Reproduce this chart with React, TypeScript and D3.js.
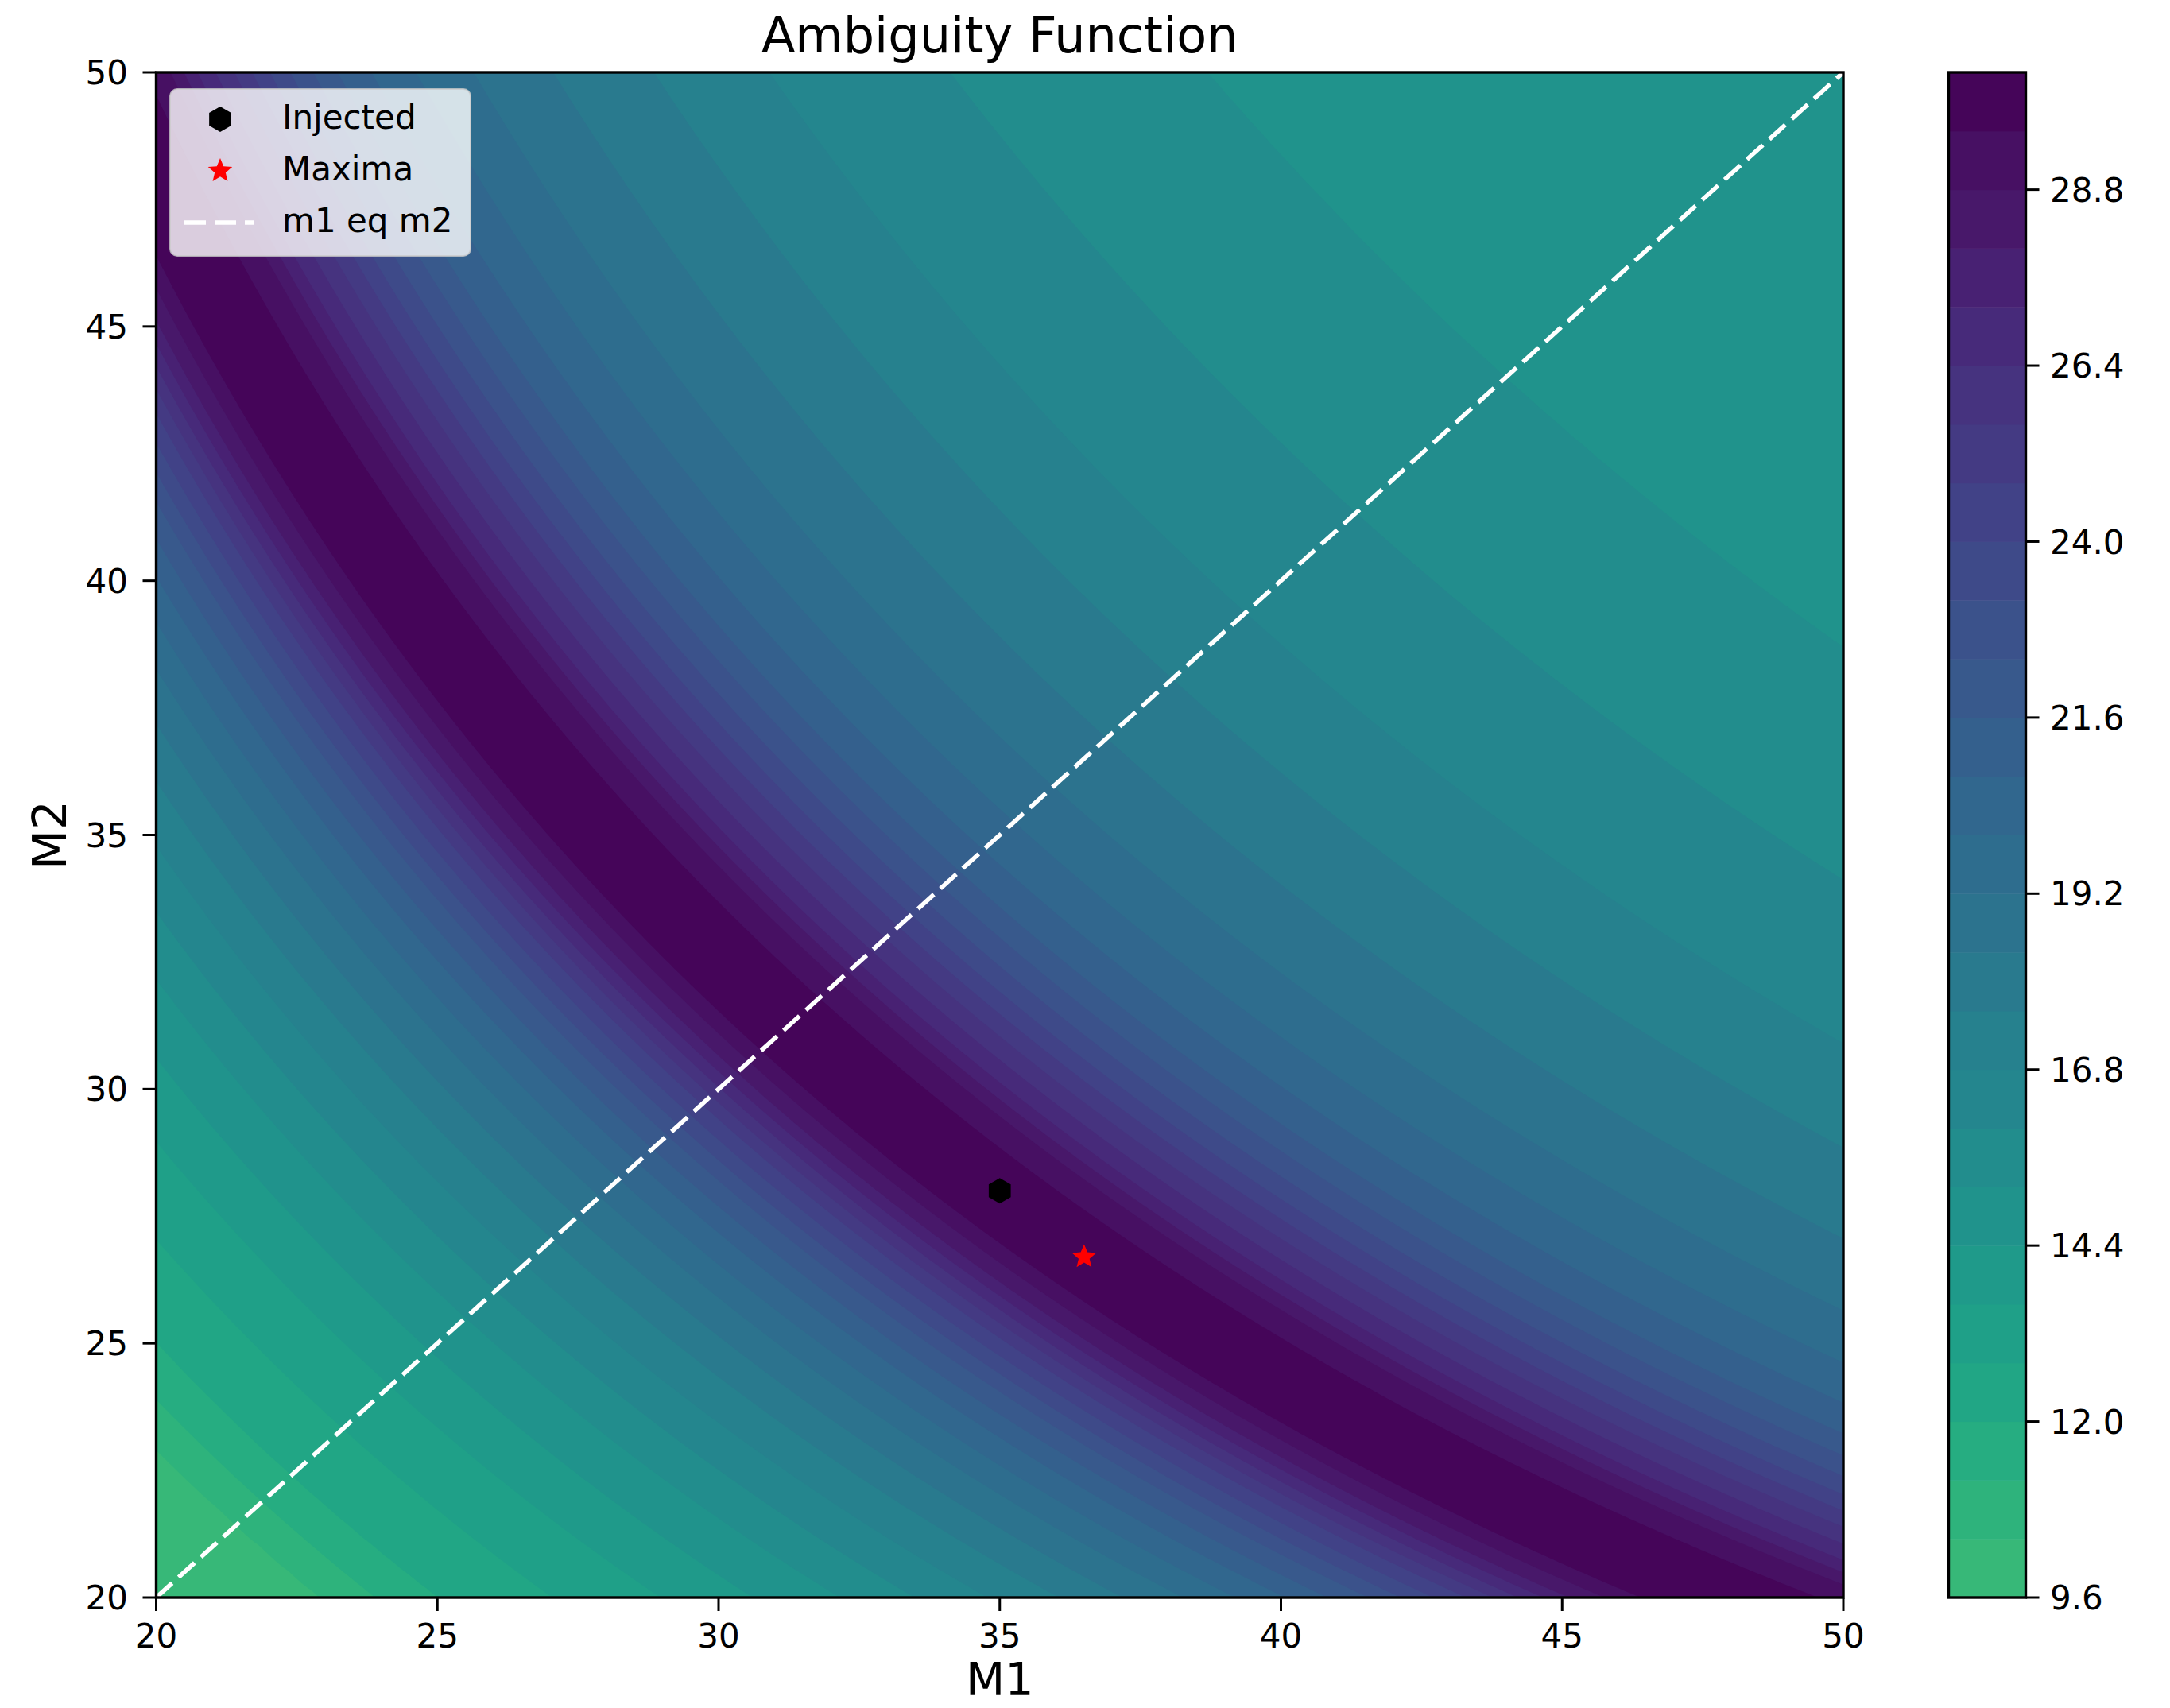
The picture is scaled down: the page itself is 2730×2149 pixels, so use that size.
import React, { useMemo } from "react";
import * as d3 from "d3";

// ---------- data ----------
const xTicks = [20, 25, 30, 35, 40, 45, 50];
const yTicks = [20, 25, 30, 35, 40, 45, 50];
const colorbarTicks = [9.6, 12.0, 14.4, 16.8, 19.2, 21.6, 24.0, 26.4, 28.8];
const levels = [
  9.6, 10.4, 11.2, 12.0, 12.8, 13.6, 14.4, 15.2, 16.0, 16.8, 17.6, 18.4, 19.2, 20.0,
  20.8, 21.6, 22.4, 23.2, 24.0, 24.8, 25.6, 26.4, 27.2, 28.0, 28.8, 29.6, 30.4,
];
const chirpMassProfile = [
  17.0, 17.8, 18.65, 19.05, 19.5, 20.2, 20.8, 21.5, 22.2, 22.9, 23.6, 24.2, 24.8, 25.3,
  25.9, 26.4, 26.8, 27.2, 27.6, 27.95, 28.3, 28.7, 29.2, 29.8, 30.4, 31.2, 32.0, 33.0,
  34.7, 36.5, 38.3, 40.0, 41.5, 44.0,
];
const ambiguityProfile = [
  9.8, 10.0, 10.4, 11.2, 12.0, 12.7, 13.3, 14.2, 15.2, 16.4, 17.7, 19.0, 20.6, 22.3,
  25.0, 28.0, 29.7, 30.25, 29.8, 28.9, 27.1, 25.6, 23.6, 21.7, 20.4, 19.3, 18.5, 17.7,
  16.5, 15.8, 15.2, 14.9, 14.7, 14.5,
];
const ETA_SHIFT = 18; // ridge drift with symmetric mass ratio
const injected = { m1: 35, m2: 28 };
const maxima = { m1: 36.5, m2: 26.7 };
const diagonal = [
  { m1: 20, m2: 20 },
  { m1: 50, m2: 50 },
];
const legendItems = ["Injected", "Maxima", "m1 eq m2"];

// ---------- layout ----------
const W = 2730;
const H = 2149;
const PL = 196.5;
const PR = 2319;
const PT = 91;
const PB = 2010;
const CBL = 2451.5;
const CBR = 2548.5;
const FONT = "DejaVu Sans, Verdana, sans-serif";

function hexPath(r: number) {
  const pts = d3.range(6).map((k) => {
    const a = Math.PI / 2 + (k * Math.PI) / 3;
    return [r * Math.cos(a), -r * Math.sin(a)];
  });
  return "M" + pts.map((p) => p.join(",")).join("L") + "Z";
}
function starPath(R: number, ratio: number) {
  const r = R * ratio;
  const pts = d3.range(10).map((k) => {
    const a = Math.PI / 2 + (k * Math.PI) / 5;
    const rr = k % 2 === 0 ? R : r;
    return [rr * Math.cos(a), -rr * Math.sin(a)];
  });
  return "M" + pts.map((p) => p.join(",")).join("L") + "Z";
}

export default function App() {
  const x = d3.scaleLinear().domain([20, 50]).range([PL, PR]);
  const y = d3.scaleLinear().domain([20, 50]).range([PB, PT]);
  const vmax = levels[levels.length - 1];
  const bandColor = (i: number) =>
    d3.interpolateViridis(1 - (levels[i] + levels[i + 1]) / 2 / vmax);
  const cb = d3
    .scaleLinear()
    .domain([levels[0], levels[levels.length - 1]])
    .range([PB, PT]);

  const { paths, tf } = useMemo(() => {
    const profile = d3
      .scaleLinear()
      .domain(chirpMassProfile)
      .range(ambiguityProfile)
      .clamp(true);
    const nx = 520;
    const ny = 480;
    const gx0 = 19.8,
      gx1 = 50.2,
      gy0 = 19.8,
      gy1 = 50.2;
    const values = new Float64Array(nx * ny);
    for (let j = 0; j < ny; j++) {
      const m2 = gy1 - ((j + 0.5) * (gy1 - gy0)) / ny;
      for (let i = 0; i < nx; i++) {
        const m1 = gx0 + ((i + 0.5) * (gx1 - gx0)) / nx;
        const M = m1 + m2;
        const mc = Math.pow(m1 * m2, 0.6) / Math.pow(M, 0.2);
        const eta = (m1 * m2) / (M * M);
        values[j * nx + i] = profile(mc + ETA_SHIFT * (0.25 - eta));
      }
    }
    const thr = levels.slice(0, -1);
    const cs = d3.contours().size([nx, ny]).thresholds(thr)(Array.from(values));
    const gp = d3.geoPath();
    const paths = cs.map((c, i) => ({ d: gp(c as any) || "", i }));
    const tf = `translate(${x(gx0)},${y(gy1)}) scale(${(x(gx1) - x(gx0)) / nx},${
      (y(gy0) - y(gy1)) / ny
    })`;
    return { paths, tf };
  }, []);

  const hex = hexPath(16);
  const star = starPath(16, 0.45);

  return (
    <svg
      width={W}
      height={H}
      style={{ position: "absolute", left: 0, top: 0, background: "#fff" }}
      fontFamily={FONT}
    >
      <defs>
        <clipPath id="plotclip">
          <rect x={PL} y={PT} width={PR - PL} height={PB - PT} />
        </clipPath>
      </defs>
      <rect x={0} y={0} width={W} height={H} fill="#fff" />
      <g clipPath="url(#plotclip)">
        <rect x={PL} y={PT} width={PR - PL} height={PB - PT} fill={bandColor(0)} />
        <g transform={tf}>
          {paths.map((p) => (
            <path key={p.i} d={p.d} fill={bandColor(p.i)} />
          ))}
        </g>
        <line
          x1={x(diagonal[0].m1)}
          y1={y(diagonal[0].m2)}
          x2={x(diagonal[1].m1)}
          y2={y(diagonal[1].m2)}
          stroke="#fff"
          strokeWidth={5.5}
          strokeDasharray="27 11"
        />
        <path d={hex} transform={`translate(${x(injected.m1)},${y(injected.m2)})`} fill="#000" />
        <path d={star} transform={`translate(${x(maxima.m1)},${y(maxima.m2)})`} fill="#ff0000" />
      </g>
      {/* spines */}
      <rect
        x={PL}
        y={PT}
        width={PR - PL}
        height={PB - PT}
        fill="none"
        stroke="#000"
        strokeWidth={3.4}
      />
      {/* x ticks */}
      {xTicks.map((t) => (
        <g key={"x" + t}>
          <line x1={x(t)} x2={x(t)} y1={PB} y2={PB + 17} stroke="#000" strokeWidth={3} />
          <text x={x(t)} y={2073} fontSize={42} textAnchor="middle" fill="#000">
            {t}
          </text>
        </g>
      ))}
      {yTicks.map((t) => (
        <g key={"y" + t}>
          <line x1={PL - 17} x2={PL} y1={y(t)} y2={y(t)} stroke="#000" strokeWidth={3} />
          <text x={161} y={y(t)} dy="0.36em" fontSize={42} textAnchor="end" fill="#000">
            {t}
          </text>
        </g>
      ))}
      <text x={(PL + PR) / 2} y={2133} fontSize={57} textAnchor="middle" fill="#000">
        M1
      </text>
      <text
        transform={`translate(83,${(PT + PB) / 2}) rotate(-90)`}
        fontSize={58}
        textAnchor="middle"
        fill="#000"
      >
        M2
      </text>
      <text x={(PL + PR) / 2} y={66} fontSize={62} textAnchor="middle" fill="#000">
        Ambiguity Function
      </text>
      {/* legend */}
      <g>
        <rect
          x={214}
          y={112}
          width={378}
          height={210}
          rx={9}
          fill="#fff"
          fillOpacity={0.8}
          stroke="#ccc"
          strokeOpacity={0.8}
          strokeWidth={2}
        />
        <path d={hex} transform="translate(277,150)" fill="#000" />
        <path d={star} transform="translate(277,215)" fill="#ff0000" />
        <line x1={232} x2={320} y1={280} y2={280} stroke="#fff" strokeWidth={5.5} strokeDasharray="27 11" />
        {legendItems.map((s, k) => (
          <text key={s} x={355} y={162 + k * 65} fontSize={42} fill="#000">
            {s}
          </text>
        ))}
      </g>
      {/* colorbar */}
      <g>
        {levels.slice(0, -1).map((l, i) => (
          <rect
            key={"cb" + i}
            x={CBL}
            width={CBR - CBL}
            y={cb(levels[i + 1])}
            height={cb(levels[i]) - cb(levels[i + 1]) + 0.5}
            fill={bandColor(i)}
          />
        ))}
        <rect
          x={CBL}
          y={PT}
          width={CBR - CBL}
          height={PB - PT}
          fill="none"
          stroke="#000"
          strokeWidth={3.4}
        />
        {colorbarTicks.map((t) => (
          <g key={"c" + t}>
            <line x1={CBR} x2={CBR + 17} y1={cb(t)} y2={cb(t)} stroke="#000" strokeWidth={3} />
            <text x={2579} y={cb(t)} dy="0.36em" fontSize={42} fill="#000">
              {t.toFixed(1)}
            </text>
          </g>
        ))}
      </g>
    </svg>
  );
}
